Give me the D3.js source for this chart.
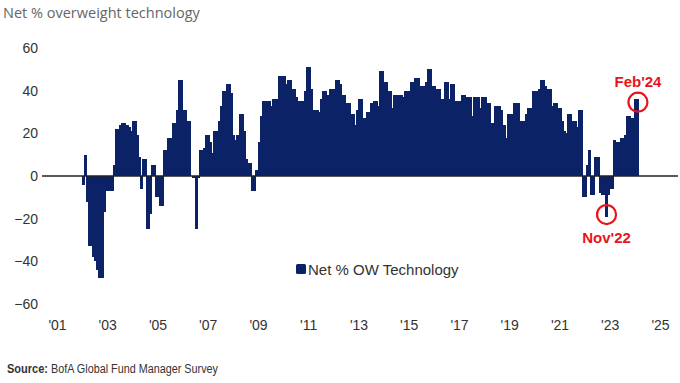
<!DOCTYPE html>
<html>
<head>
<meta charset="utf-8">
<script src="https://cdn.jsdelivr.net/npm/d3@7"></script>
<style>
  body { margin: 0; background: #fff; }
  #container { width: 680px; height: 383px; }
</style>
</head>
<body>
<div id="container"></div>
<script>
// Monthly Net % OW technology, Jan 2002 .. Feb 2024 (one row per year)
const firstMonth = [2002, 0];
const netOW = [
  -4, 10, -12, -33, -33, -38, -40, -44, -48, -48, -17, -7,   // 2002
  -7, -7, -7, 5, 22, 22, 24, 25, 25, 24, 23, 21,             // 2003
  26, 26, 19, 9, -6, 8, 8, -25, -18, 5, 5, -10,              // 2004
  -10, -14, -14, 12, 12, 18, 18, 25, 25, 31, 45, 45,         // 2005
  31, 31, 26, 26, 0, -1, -25, -1, 12, 12, 13, 19,            // 2006
  19, 16, 11, 21, 21, 26, 33, 40, 40, 43, 43, 39,            // 2007
  19, 17, 19, 29, 29, 21, 8, 6, 6, -7, -7, 3,                // 2008
  16, 28, 35, 35, 35, 35, 33, 36, 36, 36, 47, 47,            // 2009
  47, 43, 45, 45, 41, 41, 37, 35, 35, 35, 40, 51,            // 2010
  51, 41, 31, 31, 31, 30, 36, 40, 40, 38, 41, 41,            // 2011
  41, 45, 45, 43, 38, 38, 34, 34, 29, 29, 24, 31,            // 2012
  36, 36, 27, 27, 30, 30, 34, 35, 35, 33, 49, 49,            // 2013
  44, 44, 40, 40, 32, 38, 38, 38, 38, 37, 40, 40,            // 2014
  40, 44, 44, 46, 46, 42, 42, 42, 44, 50, 50, 42,            // 2015
  42, 41, 41, 36, 36, 44, 44, 36, 43, 43, 35, 35,            // 2016
  35, 38, 38, 37, 37, 37, 28, 37, 37, 37, 32, 37,            // 2017
  37, 34, 34, 25, 25, 33, 33, 33, 31, 24, 18, 29,            // 2018
  29, 29, 34, 34, 34, 26, 26, 26, 29, 32, 32, 40,            // 2019
  40, 40, 41, 45, 45, 42, 41, 41, 33, 34, 34, 32,            // 2020
  32, 26, 21, 20, 29, 29, 26, 26, 23, 31, 31, -10,           // 2021
  -10, 5, 12, -9, -9, 9, 9, -8, -9, -9, -19, -9,             // 2022
  -6, -6, 17, 16, 16, 18, 18, 19, 28, 28, 27, 27,            // 2023
  36, 36                                                     // 2024
];

const yTicks = [60, 40, 20, 0, -20, -40, -60];
const xTickYears = [2001, 2003, 2005, 2007, 2009, 2011, 2013, 2015, 2017, 2019, 2021, 2023, 2025];
const xTickLabels = ["'01", "'03", "'05", "'07", "'09", "'11", "'13", "'15", "'17", "'19", "'21", "'23", "'25"];

const callouts = [
  { date: [2024, 1], label: "Feb'24", above: true },
  { date: [2022, 10], label: "Nov'22", above: false }
];

const navy = "#0b2266";
const red = "#e8141c";
const sans = "'Liberation Sans', Arial, sans-serif";

const data = netOW.map((v, i) => ({
  date: new Date(firstMonth[0], firstMonth[1] + i, 1),
  value: v
}));

const svg = d3.select("#container")
  .append("svg")
  .attr("width", 680)
  .attr("height", 383);

const x = d3.scaleTime()
  .domain([new Date(2001, 0, 1), new Date(2025, 0, 1)])
  .range([57, 660]);

const y = d3.scaleLinear()
  .domain([-60, 60])
  .range([304, 48]);

const nextMonth = d => new Date(d.getFullYear(), d.getMonth() + 1, 1);

// Title
svg.append("text")
  .attr("x", 3)
  .attr("y", 18)
  .style("font-family", "'Open Sans', sans-serif")
  .style("font-size", "14.5px")
  .style("fill", "#666")
  .text("Net % overweight technology");

// Bars, snapped to whole pixels so neighbouring months read as one block
svg.append("g")
  .attr("shape-rendering", "crispEdges")
  .selectAll("rect")
  .data(data)
  .join("rect")
  .attr("x", d => Math.floor(x(d.date)))
  .attr("width", d => Math.ceil(x(nextMonth(d.date))) - Math.floor(x(d.date)))
  .attr("y", d => y(Math.max(0, d.value)))
  .attr("height", d => Math.abs(y(d.value) - y(0)))
  .attr("fill", navy);

// Zero line
svg.append("line")
  .attr("x1", 42)
  .attr("x2", 678)
  .attr("y1", y(0))
  .attr("y2", y(0))
  .attr("stroke", "#222")
  .attr("stroke-width", 1.3);

// Y axis
const yAxis = svg.append("g")
  .attr("transform", "translate(38,0)")
  .call(d3.axisLeft(y).tickValues(yTicks).tickSize(0).tickPadding(0));
yAxis.select(".domain").remove();
yAxis.selectAll("text")
  .style("font-family", sans)
  .style("font-size", "14px")
  .style("fill", "#333");

// X axis
const xAxis = svg.append("g")
  .attr("transform", "translate(0,318)")
  .call(d3.axisBottom(x)
    .tickValues(xTickYears.map(yr => new Date(yr, 0, 1)))
    .tickFormat((d, i) => xTickLabels[i])
    .tickSize(0)
    .tickPadding(2));
xAxis.select(".domain").remove();
xAxis.selectAll("text")
  .style("font-family", sans)
  .style("font-size", "14px")
  .style("fill", "#333");

// Legend
const legend = svg.append("g").attr("transform", "translate(296,264)");
legend.append("rect")
  .attr("width", 10)
  .attr("height", 10)
  .attr("rx", 1.5)
  .attr("fill", navy);
legend.append("text")
  .attr("x", 12)
  .attr("y", 11)
  .style("font-family", sans)
  .style("font-size", "15px")
  .style("fill", "#333")
  .text("Net % OW Technology");

// Callouts
callouts.forEach(c => {
  const d = new Date(c.date[0], c.date[1], 1);
  const pt = data.find(p => +p.date === +d);
  const cx = x(d) + (x(nextMonth(d)) - x(d)) / 2;
  const cy = y(pt.value) + (c.above ? 3 : -2);
  svg.append("circle")
    .attr("cx", cx)
    .attr("cy", cy)
    .attr("r", 9.5)
    .attr("fill", "none")
    .attr("stroke", red)
    .attr("stroke-width", 2.2);
  svg.append("text")
    .attr("x", cx)
    .attr("y", c.above ? cy - 15 : cy + 28)
    .attr("text-anchor", "middle")
    .style("font-family", sans)
    .style("font-size", "15px")
    .style("font-weight", "bold")
    .style("fill", red)
    .text(c.label);
});

// Source (two pieces, each squeezed to the reference's narrow width)
svg.append("text")
  .attr("x", 7)
  .attr("y", 373)
  .attr("textLength", 41)
  .attr("lengthAdjust", "spacingAndGlyphs")
  .style("font-family", sans)
  .style("font-size", "12px")
  .style("font-weight", "bold")
  .style("fill", "#333")
  .text("Source:");
svg.append("text")
  .attr("x", 51)
  .attr("y", 373)
  .attr("textLength", 167)
  .attr("lengthAdjust", "spacingAndGlyphs")
  .style("font-family", sans)
  .style("font-size", "12px")
  .style("fill", "#333")
  .text("BofA Global Fund Manager Survey");
</script>
</body>
</html>
